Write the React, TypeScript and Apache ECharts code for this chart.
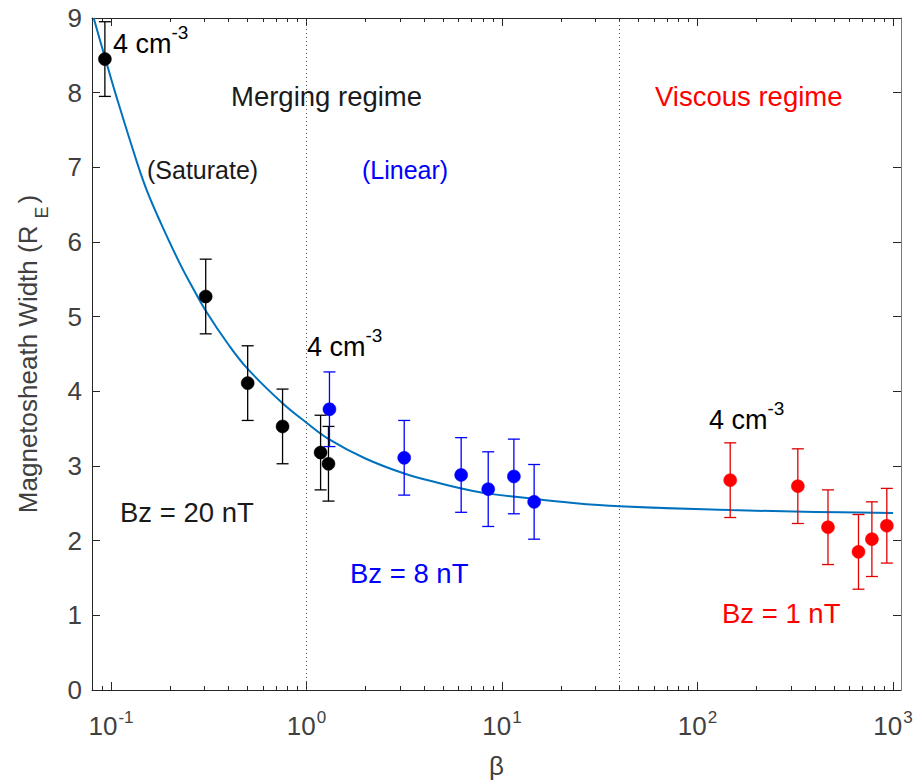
import React, { useEffect, useRef } from "react";
import * as echarts from "echarts";

// ---- data ----
const betaBlack = [0.093, 0.305, 0.5, 0.754, 1.18, 1.295];
const widthBlack = [8.45, 5.27, 4.11, 3.53, 3.18, 3.03];
const errBlack = [0.5, 0.5, 0.5, 0.5, 0.5, 0.5];

const betaBlue = [1.31, 3.16, 6.18, 8.5, 11.5, 14.6];
const widthBlue = [3.76, 3.11, 2.88, 2.69, 2.86, 2.52];
const errBlue = [0.5, 0.5, 0.5, 0.5, 0.5, 0.5];

const betaRed = [147, 326, 465, 666, 780, 930];
const widthRed = [2.81, 2.73, 2.18, 1.85, 2.02, 2.2];
const errRed = [0.5, 0.5, 0.5, 0.5, 0.5, 0.5];

const fitBeta = [0.0815, 0.0931, 0.107, 0.136, 0.154, 0.18, 0.225, 0.26, 0.305, 0.4, 0.5, 0.754, 1.0, 1.3, 2.0, 3.16, 4.8, 6.2, 8.5, 14.6, 20, 40, 147, 400, 1000];
const fitWidth = [9.0, 8.47, 7.93, 7.06, 6.66, 6.25, 5.71, 5.4, 5.08, 4.62, 4.3, 3.84, 3.58, 3.36, 3.1, 2.9, 2.77, 2.7, 2.63, 2.56, 2.52, 2.46, 2.41, 2.385, 2.37];

const regimeBoundaries = [1, 40];
const xMajorTicks = [0.1, 1, 10, 100, 1000];
const xMinorTicks = [
  0.09,
  0.2, 0.3, 0.4, 0.5, 0.6, 0.7, 0.8, 0.9,
  2, 3, 4, 5, 6, 7, 8, 9,
  20, 30, 40, 50, 60, 70, 80, 90,
  200, 300, 400, 500, 600, 700, 800, 900,
];
const xRange = [0.08, 1100];
const yTicks = [0, 1, 2, 3, 4, 5, 6, 7, 8, 9];

const lg = (v: number) => Math.log10(v);

const FONT = "Liberation Sans, Arial, Helvetica, sans-serif";
const AXIS_COLOR = "#262626";
const LABEL_COLOR = "#404040";

export default function App() {
  const ref = useRef<HTMLDivElement>(null);

  useEffect(() => {
    if (!ref.current) return;
    const chart = echarts.init(ref.current, undefined, { renderer: "svg" });

    const xMin = lg(xRange[0]) - 0.0005;
    const xMax = lg(xRange[1]) - 0.0004;

    const errSeries = (beta: number[], w: number[], e: number[], color: string) => ({
      type: "custom",
      xAxisIndex: 0,
      yAxisIndex: 0,
      silent: true,
      z: 3,
      data: beta.map((b, i) => [lg(b), w[i] - e[i], w[i] + e[i]]),
      encode: { x: 0, y: [1, 2] },
      renderItem: (_params: any, api: any) => {
        const x = api.value(0);
        const top = api.coord([x, api.value(2)]);
        const bot = api.coord([x, api.value(1)]);
        const hw = 6;
        const st = { stroke: color, lineWidth: 1.3 };
        return {
          type: "group",
          children: [
            { type: "line", shape: { x1: top[0], y1: top[1], x2: bot[0], y2: bot[1] }, style: st },
            { type: "line", shape: { x1: top[0] - hw, y1: top[1], x2: top[0] + hw, y2: top[1] }, style: st },
            { type: "line", shape: { x1: bot[0] - hw, y1: bot[1], x2: bot[0] + hw, y2: bot[1] }, style: st },
          ],
        };
      },
    });

    const scatter = (beta: number[], w: number[], color: string) => ({
      type: "scatter",
      xAxisIndex: 0,
      yAxisIndex: 0,
      symbol: "circle",
      symbolSize: 13,
      z: 4,
      itemStyle: { color, borderColor: color, borderWidth: 0.5, opacity: 1 },
      data: beta.map((b, i) => [lg(b), w[i]]),
    });

    const xBase = {
      type: "value",
      min: xMin,
      max: xMax,
      gridIndex: 0,
      splitLine: { show: false },
    };

    const supRich = {
      b: { fontSize: 26, fontFamily: FONT, color: LABEL_COLOR, verticalAlign: "bottom", lineHeight: 30 },
      s: { fontSize: 17, fontFamily: FONT, color: LABEL_COLOR, verticalAlign: "top", lineHeight: 30, padding: [0, 0, 0, 1] },
    };

    const cmRich = (color: string) => ({
      b: { fontSize: 27, fontFamily: FONT, color, verticalAlign: "bottom", lineHeight: 34 },
      s: { fontSize: 19, fontFamily: FONT, color, verticalAlign: "top", lineHeight: 34 },
    });

    const txt = (x: number, y: number, text: string, color: string, size = 27.5) => ({
      type: "text",
      x,
      y,
      silent: true,
      style: {
        text,
        fill: color,
        font: `${size}px ${FONT}`,
        textAlign: "left",
        textVerticalAlign: "middle",
      },
    });

    const cm = (x: number, y: number, color: string) => ({
      type: "text",
      x,
      y,
      silent: true,
      style: {
        text: "{b|4 cm}{s|-3}",
        rich: cmRich(color),
        textAlign: "left",
        textVerticalAlign: "middle",
      },
    });

    chart.setOption({
      animation: false,
      backgroundColor: "#ffffff",
      textStyle: { fontFamily: FONT },
      grid: { left: 92, right: 21, top: 18, bottom: 94, outerBoundsMode: "none", containLabel: false },
      xAxis: [
        {
          ...xBase,
          position: "bottom",
          name: "β",
          nameLocation: "middle",
          nameGap: 63,
          nameTextStyle: { fontSize: 26, color: LABEL_COLOR, fontFamily: FONT },
          axisLine: { show: true, onZero: false, lineStyle: { color: AXIS_COLOR, width: 1 } },
          axisTick: { show: true, inside: true, length: 8, lineStyle: { color: AXIS_COLOR }, customValues: xMajorTicks.map(lg) },
          axisLabel: {
            show: true,
            margin: 19,
            customValues: xMajorTicks.map(lg),
            formatter: (v: number) => `{b|10}{s|${Math.round(v)}}`,
            rich: supRich,
          },
        },
        {
          ...xBase,
          position: "bottom",
          axisLine: { show: false, onZero: false },
          axisTick: { show: true, inside: true, length: 4, lineStyle: { color: AXIS_COLOR }, customValues: xMinorTicks.map(lg) },
          axisLabel: { show: false },
        },
        {
          ...xBase,
          position: "top",
          axisLine: { show: true, onZero: false, lineStyle: { color: AXIS_COLOR, width: 1 } },
          axisTick: { show: true, inside: true, length: 8, lineStyle: { color: AXIS_COLOR }, customValues: xMajorTicks.map(lg) },
          axisLabel: { show: false },
        },
        {
          ...xBase,
          position: "top",
          axisLine: { show: false, onZero: false },
          axisTick: { show: true, inside: true, length: 4, lineStyle: { color: AXIS_COLOR }, customValues: xMinorTicks.map(lg) },
          axisLabel: { show: false },
        },
      ],
      yAxis: [
        {
          type: "value",
          position: "left",
          min: yTicks[0],
          max: yTicks[yTicks.length - 1],
          interval: 1,
          splitLine: { show: false },
          axisLine: { show: true, onZero: false, lineStyle: { color: AXIS_COLOR, width: 1 } },
          axisTick: { show: true, inside: true, length: 8, lineStyle: { color: AXIS_COLOR } },
          axisLabel: { show: true, margin: 10, fontSize: 26, color: LABEL_COLOR, fontFamily: FONT },
          name: "{n|Magnetosheath Width (R}{sub|E}{n|)}",
          nameLocation: "middle",
          nameGap: 41,
          nameTextStyle: {
            fontSize: 26,
            color: LABEL_COLOR,
            fontFamily: FONT,
            rich: {
              n: { fontSize: 26, color: LABEL_COLOR, fontFamily: FONT, verticalAlign: "middle", lineHeight: 30 },
              sub: { fontSize: 18, color: LABEL_COLOR, fontFamily: FONT, verticalAlign: "bottom", padding: [0, 3, 0, 7], lineHeight: 46 },
            },
          },
        },
        {
          type: "value",
          position: "right",
          min: yTicks[0],
          max: yTicks[yTicks.length - 1],
          interval: 1,
          splitLine: { show: false },
          axisLine: { show: true, onZero: false, lineStyle: { color: "#7a7a7a", width: 1 } },
          axisTick: { show: true, inside: true, length: 8, lineStyle: { color: AXIS_COLOR } },
          axisLabel: { show: false },
        },
      ],
      series: [
        {
          type: "line",
          xAxisIndex: 0,
          yAxisIndex: 0,
          data: fitBeta.map((b, i) => [lg(b), fitWidth[i]]),
          smooth: 0.4,
          showSymbol: false,
          symbol: "none",
          z: 2,
          lineStyle: { color: "#0072BD", width: 2 },
          markLine: {
            silent: true,
            symbol: ["none", "none"],
            label: { show: false },
            lineStyle: { color: "#555555", width: 1, type: [1, 3] },
            data: regimeBoundaries.map((b) => ({ xAxis: lg(b) })),
          },
        },
        errSeries(betaBlack, widthBlack, errBlack, "#000000"),
        errSeries(betaBlue, widthBlue, errBlue, "#0000FF"),
        errSeries(betaRed, widthRed, errRed, "#E00000"),
        scatter(betaBlack, widthBlack, "#000000"),
        scatter(betaBlue, widthBlue, "#0000FF"),
        scatter(betaRed, widthRed, "#FF0000"),
      ],
      graphic: [
        cm(113, 40, "#000000"),
        txt(231, 96, "Merging regime", "#1a1a1a"),
        txt(655, 96, "Viscous regime", "#FF0000"),
        txt(147, 170, "(Saturate)", "#1a1a1a", 25),
        txt(362, 170, "(Linear)", "#0000FF", 25),
        cm(307, 343, "#0000FF"),
        cm(709, 416, "#FF0000"),
        txt(120, 512, "Bz = 20 nT", "#1a1a1a"),
        txt(350, 573, "Bz = 8 nT", "#0000FF"),
        txt(722, 613, "Bz = 1 nT", "#FF0000"),
      ],
    });

    return () => chart.dispose();
  }, []);

  return <div ref={ref} style={{ position: "absolute", left: 0, top: 0, width: 922, height: 784 }} />;
}
